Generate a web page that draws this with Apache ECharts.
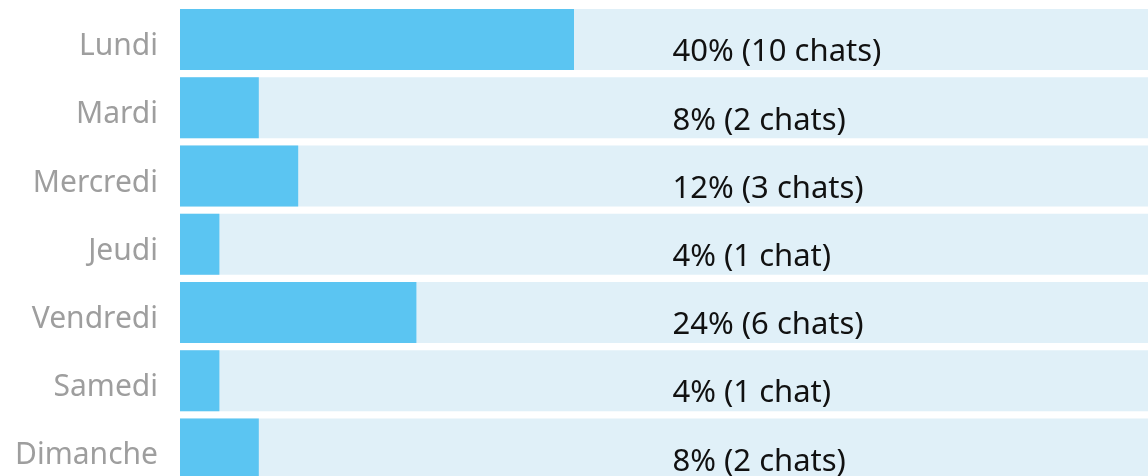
<!DOCTYPE html>
<html>
<head>
<meta charset="utf-8">
<script src="https://cdn.jsdelivr.net/npm/echarts@6/dist/echarts.min.js"></script>
<style>
  html, body { margin: 0; padding: 0; background: #fff; overflow: hidden; }
  /* le graphique déborde un peu de la fenêtre, comme dans l'original */
  #mainChart { width: 1165px; height: 483px; }
</style>
</head>
<body>
<div id="mainChart"></div>
<script>
// jours de la semaine et répartition des chats
var days = ['Lundi', 'Mardi', 'Mercredi', 'Jeudi', 'Vendredi', 'Samedi', 'Dimanche'];
var percents = [40, 8, 12, 4, 24, 4, 8];
var chatCounts = [10, 2, 3, 1, 6, 1, 2];
var fullValues = [100, 100, 100, 100, 100, 100, 100];

var myChart = echarts.init(document.getElementById('mainChart'));

function labelText(i) {
    var n = chatCounts[i];
    return percents[i] + '% (' + n + (n > 1 ? ' chats' : ' chat') + ')';
}

myChart.setOption({
    animation: false,
    textStyle: { fontFamily: 'Noto Sans' },
    grid: {
        left: 180,
        right: 0,
        top: 5.4,
        bottom: 0,
        containLabel: false
    },
    xAxis: {
        type: 'value',
        min: 0,
        max: 100,
        show: false
    },
    yAxis: {
        type: 'category',
        data: days,
        inverse: true,
        axisLine: { show: false },
        axisTick: { show: false },
        splitLine: { show: false },
        axisLabel: {
            margin: 22,
            formatter: function (v) { return '{d|' + v + '}'; },
            rich: {
                d: {
                    color: '#9e9e9e',
                    fontSize: 30,
                    fontFamily: 'Noto Sans',
                    padding: [14, 0, 0, 0]
                }
            }
        }
    },
    series: [{
        // fond clair sur toute la largeur
        type: 'bar',
        data: fullValues,
        barWidth: 61,
        barGap: '-100%',
        silent: true,
        itemStyle: { color: '#e0f0f8' },
        label: {
            show: true,
            position: ['50%', '50%'],
            align: 'left',
            verticalAlign: 'middle',
            offset: [0, 13],
            color: '#111111',
            fontSize: 31,
            fontFamily: 'Noto Sans',
            formatter: function (p) { return labelText(p.dataIndex); }
        },
        z: 1
    }, {
        type: 'bar',
        data: percents,
        barWidth: 61,
        barGap: '-100%',
        itemStyle: { color: '#5bc5f2' },
        z: 2
    }]
});
</script>
</body>
</html>
